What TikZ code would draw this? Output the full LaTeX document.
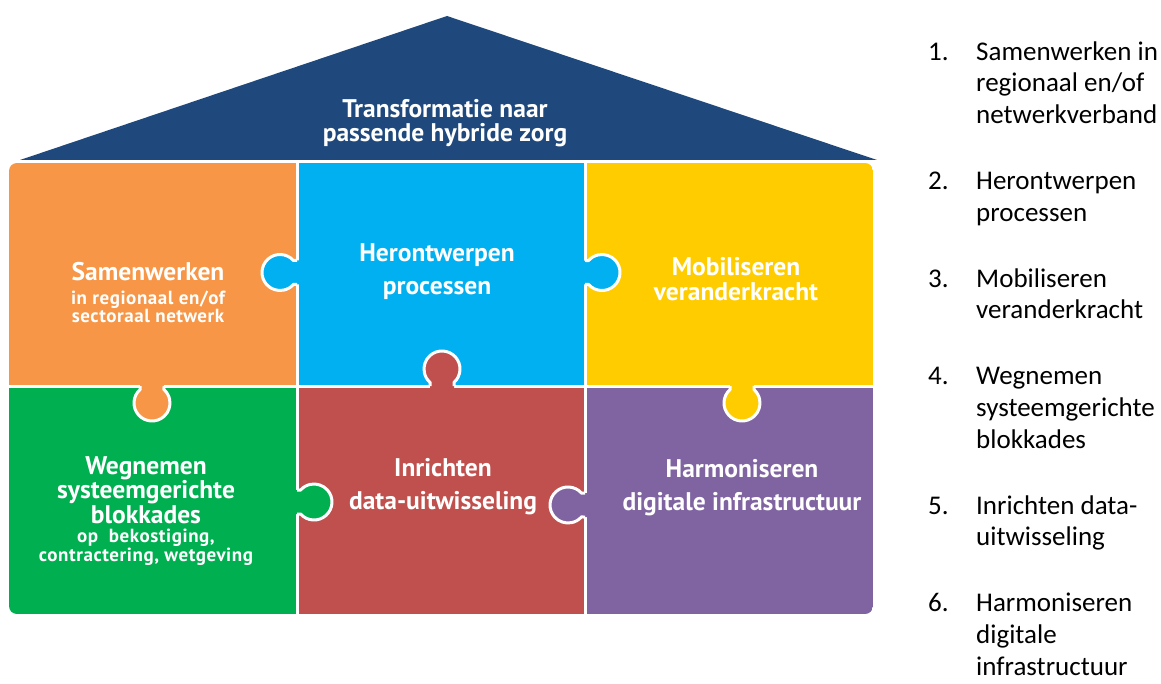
\documentclass[tikz,border=0pt]{standalone}
\usepackage{fontspec}
\setmainfont{PT Sans}
\newfontfamily\listfont{Carlito}
\usepackage{xcolor}
\usetikzlibrary{positioning}

\definecolor{roofblue}{RGB}{31,73,125}
\definecolor{pieceorange}{RGB}{247,150,70}
\definecolor{pieceblue}{RGB}{0,176,240}
\definecolor{pieceyellow}{RGB}{255,204,0}
\definecolor{piecegreen}{RGB}{0,176,80}
\definecolor{piecered}{RGB}{192,80,77}
\definecolor{piecepurple}{RGB}{128,100,162}

\begin{document}
\begin{tikzpicture}[
    x=1pt, y=1pt,
    node distance=0pt,
    piece/.style={rectangle, inner sep=0, outer sep=0, minimum width=288pt},
    toprow/.style={piece, minimum height=223pt},
    bottomrow/.style={piece, minimum height=228pt},
    label/.style={text=white, align=center, inner sep=0, font=\bfseries\fontsize{25.5}{#1}\selectfont},
    sublabel/.style={text=white, align=center, inner sep=0, font=\bfseries\fontsize{19}{#1}\selectfont\addfontfeature{LetterSpace=3}},
    gapline/.style={white, line width=3pt},
    tab/.pic={
        \fill[#1] (-4,-12) -- (3.58,-12) arc[start angle=-138.2, end angle=138.2, radius=18] -- (-4,12) -- cycle;
        \draw[gapline] (0,-12) -- (3.58,-12) arc[start angle=-138.2, end angle=138.2, radius=18] -- (0,12);
    }
]
\useasboundingbox (0,0) rectangle (1161,-684);

% roof
\fill[roofblue] (20,-160) -- (447,-16) -- (877,-160) -- cycle;
\node[label=24] (rooftxt) at (445,-123) {Transformatie naar\\passende hybride zorg};

% puzzle
\begin{scope}
\clip[rounded corners=8pt] (9,-163) rectangle (873,-614);
\node[toprow, fill=pieceorange, anchor=north west] (samen) at (9,-163) {};
\node[toprow, fill=pieceblue, right=of samen] (heront) {};
\node[toprow, fill=pieceyellow, right=of heront] (mobil) {};
\node[bottomrow, fill=piecegreen, below=of samen] (wegnemen) {};
\node[bottomrow, fill=piecered, below=of heront] (inricht) {};
\node[bottomrow, fill=piecepurple, below=of mobil] (harmon) {};

\draw[gapline] (samen.north east) -- (wegnemen.south east);
\draw[gapline] (heront.north east) -- (inricht.south east);
\draw[gapline] (samen.south west) -- (mobil.south east);

\pic[rotate=180] at ([yshift=2pt]samen.east) {tab=pieceblue};
\pic at ([yshift=2pt]heront.east) {tab=pieceblue};
\pic[rotate=90] at ([xshift=1pt]inricht.north) {tab=piecered};
\pic[rotate=-90] at ([xshift=-1pt]samen.south) {tab=pieceorange};
\pic at ([yshift=-2pt]wegnemen.east) {tab=piecegreen};
\pic[rotate=180] at ([yshift=-5pt]inricht.east) {tab=piecepurple};
\pic[rotate=-90] at ([xshift=13pt]mobil.south) {tab=pieceyellow};
\end{scope}

\node[label=24] (samentxt) at (148,-272) {Samenwerken};
\node[sublabel=17] (samensub) at (148,-307) {in regionaal en/of\\sectoraal netwerk};
\node[label=33] (herontxt) at (437,-272) {Herontwerpen\\processen};
\node[label=24.5] (mobiltxt) at (736,-279) {Mobiliseren\\veranderkracht};
\node[label=22] (wegtxt) at (146,-490) {Wegnemen\\systeemgerichte\\blokkades};
\node[sublabel=19] (wegsub) at (146,-547) {op~ bekostiging,\\contractering, wetgeving};
\node[label=33] (inrichttxt) at (443,-487) {Inrichten\\data-uitwisseling};
\node[label=33] (harmontxt) at (742,-488) {Harmoniseren\\digitale infrastructuur};

% list
\node[anchor=north west, inner sep=0, font=\listfont\fontsize{27}{31.8}\selectfont] (legend) at (928,-37.7) {%
\begin{tabular}{@{}p{48pt}@{}l@{}}
1. & Samenwerken in\\ & regionaal en/of\\ & netwerkverband\\[34pt]
2. & Herontwerpen\\ & processen\\[34pt]
3. & Mobiliseren\\ & veranderkracht\\[34pt]
4. & Wegnemen\\ & systeemgerichte\\ & blokkades\\[34pt]
5. & Inrichten data-\\ & uitwisseling\\[34pt]
6. & Harmoniseren\\ & digitale\\ & infrastructuur
\end{tabular}};
\end{tikzpicture}
\end{document}
